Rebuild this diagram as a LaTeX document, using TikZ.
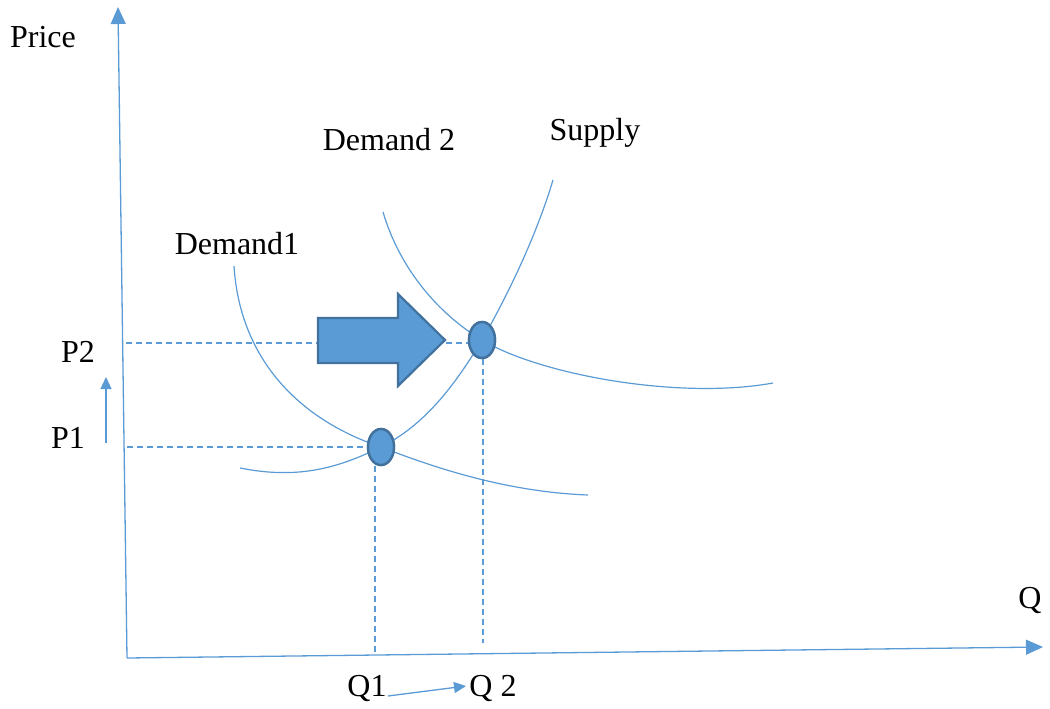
\documentclass[tikz,border=0pt]{standalone}
\usepackage{fontspec}
\setmainfont{Liberation Serif}
\usetikzlibrary{arrows.meta,shapes.geometric}
\definecolor{lineblue}{HTML}{5B9BD5}
\definecolor{darkblue}{HTML}{41719C}
\tikzset{
  axis/.style={draw=lineblue, line width=1.3pt, -{Triangle[length=17pt,width=15pt]}},
  smallarrow/.style={draw=lineblue, line width=1.3pt, -{Triangle[length=12pt,width=11pt]}},
  curve/.style={draw=lineblue, line width=1.2pt},
  guide/.style={draw=lineblue, line width=1.1pt, dash pattern=on 6pt off 4pt},
  eqpoint/.style={ellipse, draw=darkblue, fill=lineblue, line width=2.4pt, minimum width=26pt, minimum height=36pt, inner sep=0pt},
  lbl/.style={font=\fontsize{32}{36}\selectfont, inner sep=0pt, anchor=center},
}
\begin{document}
\begin{tikzpicture}[x=1pt,y=-1pt]
\useasboundingbox (0,0) rectangle (1050,709);
% labels
\node[lbl] (price) at (43,37) {Price};
\node[lbl] (qlbl) at (1030,600) {Q};
\node[lbl] (p2) at (78,352) {P2};
\node[lbl] (p1) at (68,438) {P1};
\node[lbl] (q1) at (367,688) {Q1};
\node[lbl] (q2) at (493,688) {Q 2};
\node[lbl] (d1) at (237,244) {Demand1};
\node[lbl] (d2) at (389,140) {Demand 2};
\node[lbl] (sup) at (595,133) {Supply};
% axes
\coordinate (origin) at (127,658);
\coordinate (ytop) at (118,7);
\coordinate (xend) at (1043,647);
\draw[axis] (origin) -- (ytop);
\draw[axis] (origin) -- (xend);
% equilibrium points
\node[eqpoint] (e1) at (381,447) {};
\node[eqpoint] (e2) at (482,340) {};
% guides
\coordinate (yp2) at (126,343);
\coordinate (yp1) at (127,447);
\coordinate (xq1) at (375,652);
\coordinate (xq2) at (483,643);
\draw[guide] (yp2) -- (e2.west |- yp2);
\draw[guide] (yp1) -- (e1.west |- yp1);
\draw[guide] (e1.south -| xq1) -- (xq1);
\draw[guide] (e2.south -| xq2) -- (xq2);
% curves
\coordinate (d1s) at (234,266);
\coordinate (d1e) at (588,495);
\coordinate (d2s) at (383,212);
\coordinate (d2e) at (773,383);
\coordinate (ss) at (240,468);
\coordinate (se) at (553,180);
\draw[curve] (d1s) .. controls (240,360) and (300,420) .. (e1.center)
  .. controls (440,470) and (510,492) .. (d1e);
\draw[curve] (d2s) .. controls (400,270) and (440,315) .. (e2.center)
  .. controls (540,375) and (680,400) .. (d2e);
\draw[curve] (ss) .. controls (300,480) and (340,467) .. (e1.center)
  .. controls (425,425) and (455,385) .. (e2.center)
  .. controls (505,300) and (535,240) .. (se);
% redraw points on top
\node[eqpoint] at (e1) {};
\node[eqpoint] at (e2) {};
% small arrows
\coordinate (pa1) at (106,443);
\coordinate (pa2) at (106,377);
\draw[smallarrow] (pa1) -- (pa2);
\coordinate (qa1) at (388,696);
\coordinate (qa2) at (466,686);
\draw[smallarrow] (qa1) -- (qa2);
% big arrow
\draw[darkblue, fill=lineblue, line width=2.2pt, line join=miter]
  (318,318) -- (398,318) -- (398,294) -- (445,340) -- (398,386) -- (398,363) -- (318,363) -- cycle;
\end{tikzpicture}
\end{document}
